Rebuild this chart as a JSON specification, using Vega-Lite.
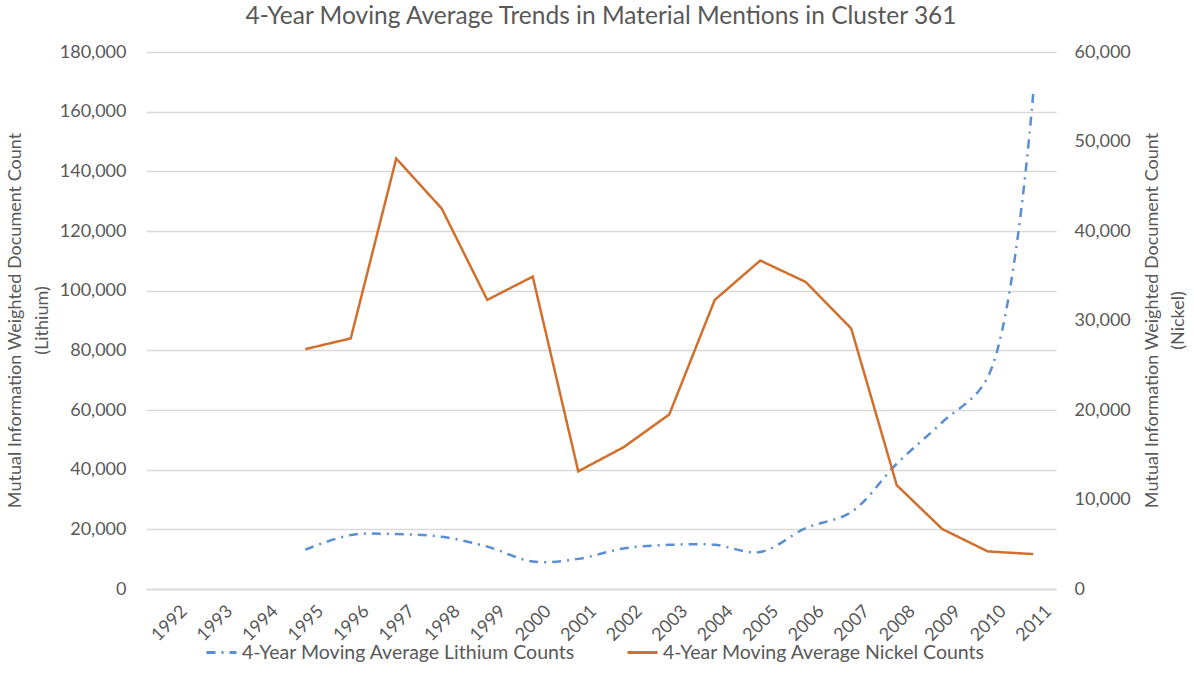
{
  "$schema": "https://vega.github.io/schema/vega-lite/v6.json",
  "width": 910,
  "height": 537,
  "autosize": {"type": "none"},
  "padding": {"left": 146, "top": 52, "right": 138, "bottom": 102},
  "config": {
    "font": "Lato",
    "view": {"stroke": null},
    "axis": {
      "labelFont": "Lato",
      "labelFontSize": 18,
      "labelColor": "#595959",
      "titleFont": "Lato",
      "titleFontSize": 18,
      "titleFontWeight": "normal",
      "titleColor": "#595959",
      "ticks": false,
      "gridColor": "#d9d9d9",
      "gridWidth": 1.3
    },
    "legend": {
      "labelFont": "Lato",
      "labelFontSize": 19.5,
      "labelColor": "#595959",
      "labelLimit": 500
    }
  },
  "title": {
    "text": "4-Year Moving Average Trends in Material Mentions in Cluster 361",
    "font": "Lato",
    "fontSize": 24.5,
    "fontWeight": "normal",
    "color": "#595959",
    "anchor": "middle",
    "offset": 14
  },
  "data": {
    "values": [
      {"year": 1995, "series": "4-Year Moving Average Lithium Counts", "value": 13200},
      {"year": 1996, "series": "4-Year Moving Average Lithium Counts", "value": 18100},
      {"year": 1997, "series": "4-Year Moving Average Lithium Counts", "value": 18400},
      {"year": 1998, "series": "4-Year Moving Average Lithium Counts", "value": 17500},
      {"year": 1999, "series": "4-Year Moving Average Lithium Counts", "value": 14200},
      {"year": 2000, "series": "4-Year Moving Average Lithium Counts", "value": 9200},
      {"year": 2001, "series": "4-Year Moving Average Lithium Counts", "value": 10100},
      {"year": 2002, "series": "4-Year Moving Average Lithium Counts", "value": 13600},
      {"year": 2003, "series": "4-Year Moving Average Lithium Counts", "value": 14800},
      {"year": 2004, "series": "4-Year Moving Average Lithium Counts", "value": 14800},
      {"year": 2005, "series": "4-Year Moving Average Lithium Counts", "value": 12400},
      {"year": 2006, "series": "4-Year Moving Average Lithium Counts", "value": 20400},
      {"year": 2007, "series": "4-Year Moving Average Lithium Counts", "value": 25800},
      {"year": 2008, "series": "4-Year Moving Average Lithium Counts", "value": 42000},
      {"year": 2009, "series": "4-Year Moving Average Lithium Counts", "value": 55900},
      {"year": 2010, "series": "4-Year Moving Average Lithium Counts", "value": 71000},
      {"year": 2011, "series": "4-Year Moving Average Lithium Counts", "value": 166300},
      {"year": 1995, "series": "4-Year Moving Average Nickel Counts", "value": 26800},
      {"year": 1996, "series": "4-Year Moving Average Nickel Counts", "value": 28000},
      {"year": 1997, "series": "4-Year Moving Average Nickel Counts", "value": 48100},
      {"year": 1998, "series": "4-Year Moving Average Nickel Counts", "value": 42500},
      {"year": 1999, "series": "4-Year Moving Average Nickel Counts", "value": 32300},
      {"year": 2000, "series": "4-Year Moving Average Nickel Counts", "value": 34900},
      {"year": 2001, "series": "4-Year Moving Average Nickel Counts", "value": 13150},
      {"year": 2002, "series": "4-Year Moving Average Nickel Counts", "value": 15850},
      {"year": 2003, "series": "4-Year Moving Average Nickel Counts", "value": 19500},
      {"year": 2004, "series": "4-Year Moving Average Nickel Counts", "value": 32300},
      {"year": 2005, "series": "4-Year Moving Average Nickel Counts", "value": 36700},
      {"year": 2006, "series": "4-Year Moving Average Nickel Counts", "value": 34300},
      {"year": 2007, "series": "4-Year Moving Average Nickel Counts", "value": 29100},
      {"year": 2008, "series": "4-Year Moving Average Nickel Counts", "value": 11600},
      {"year": 2009, "series": "4-Year Moving Average Nickel Counts", "value": 6700},
      {"year": 2010, "series": "4-Year Moving Average Nickel Counts", "value": 4200},
      {"year": 2011, "series": "4-Year Moving Average Nickel Counts", "value": 3900}
    ]
  },
  "encoding": {
    "x": {
      "field": "year",
      "type": "ordinal",
      "scale": {
        "domain": [1992, 1993, 1994, 1995, 1996, 1997, 1998, 1999, 2000, 2001, 2002, 2003, 2004, 2005, 2006, 2007, 2008, 2009, 2010, 2011]
      },
      "axis": {
        "title": null,
        "labelAngle": -45,
        "labelPadding": 13,
        "labelOffset": 9,
        "domainColor": "#d9d9d9",
        "domainWidth": 1.3,
        "grid": false
      }
    },
    "color": {
      "field": "series",
      "type": "nominal",
      "scale": {
        "domain": ["4-Year Moving Average Lithium Counts", "4-Year Moving Average Nickel Counts"],
        "range": ["#5a8ed5", "#d0702c"]
      },
      "legend": {
        "title": null,
        "orient": "none",
        "direction": "horizontal",
        "legendX": 59,
        "legendY": 584,
        "symbolType": "stroke",
        "symbolSize": 900,
        "symbolStrokeWidth": 3,
        "columnPadding": 45,
        "labelOffset": 4
      }
    },
    "strokeDash": {
      "field": "series",
      "type": "nominal",
      "scale": {
        "domain": ["4-Year Moving Average Lithium Counts", "4-Year Moving Average Nickel Counts"],
        "range": [[9, 6, 2, 6], [1, 0]]
      },
      "legend": {
        "title": null,
        "orient": "none",
        "direction": "horizontal",
        "legendX": 59,
        "legendY": 584,
        "symbolType": "stroke",
        "symbolSize": 900,
        "symbolStrokeWidth": 3,
        "columnPadding": 45,
        "labelOffset": 4
      }
    }
  },
  "layer": [
    {
      "transform": [{"filter": "datum.series == '4-Year Moving Average Lithium Counts'"}],
      "mark": {"type": "line", "interpolate": "catmull-rom", "strokeWidth": 2.5},
      "encoding": {
        "y": {
          "field": "value",
          "type": "quantitative",
          "scale": {"domain": [0, 180000], "nice": false},
          "axis": {
            "orient": "left",
            "values": [0, 20000, 40000, 60000, 80000, 100000, 120000, 140000, 160000, 180000],
            "format": ",d",
            "domain": false,
            "labelPadding": 20,
            "title": ["Mutual Information Weighted Document Count", "(Lithium)"],
            "titleAngle": -90,
            "titleAlign": "center",
            "titleBaseline": "middle",
            "titleLineHeight": 27,
            "titleX": -131,
            "titleY": 268
          }
        }
      }
    },
    {
      "transform": [{"filter": "datum.series == '4-Year Moving Average Nickel Counts'"}],
      "mark": {"type": "line", "strokeWidth": 2.5},
      "encoding": {
        "y": {
          "field": "value",
          "type": "quantitative",
          "scale": {"domain": [0, 60000], "nice": false},
          "axis": {
            "orient": "right",
            "values": [0, 10000, 20000, 30000, 40000, 50000, 60000],
            "format": ",d",
            "domain": false,
            "grid": false,
            "labelPadding": 18,
            "title": ["Mutual Information Weighted Document Count", "(Nickel)"],
            "titleAngle": -90,
            "titleAlign": "center",
            "titleBaseline": "middle",
            "titleLineHeight": 26,
            "titleX": 96,
            "titleY": 268
          }
        }
      }
    }
  ],
  "resolve": {"scale": {"y": "independent"}}
}
